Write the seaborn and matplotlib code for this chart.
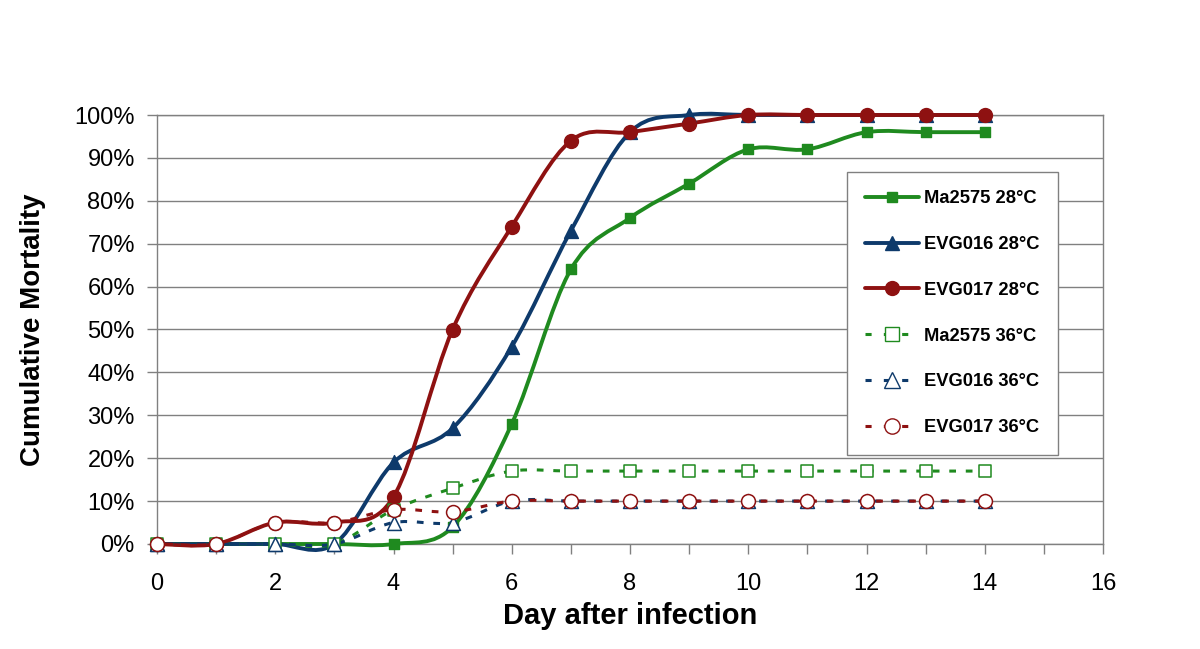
import numpy as np
import pandas as pd
import matplotlib
matplotlib.use("Agg")
import matplotlib.pyplot as plt
import seaborn as sns
from matplotlib.path import Path
from matplotlib.patches import PathPatch
from matplotlib.lines import Line2D
from matplotlib.ticker import MultipleLocator, FuncFormatter

days = [0, 1, 2, 3, 4, 5, 6, 7, 8, 9, 10, 11, 12, 13, 14]
ma2575_28 = [0, 0, 0, 0, 0, 4, 28, 64, 76, 84, 92, 92, 96, 96, 96]
evg016_28 = [0, 0, 0, 0, 19, 27, 46, 73, 96, 100, 100, 100, 100, 100, 100]
evg017_28 = [0, 0, 5, 5, 11, 50, 74, 94, 96, 98, 100, 100, 100, 100, 100]
ma2575_36 = [0, 0, 0, 0, 8, 13, 17, 17, 17, 17, 17, 17, 17, 17, 17]
evg016_36 = [0, 0, 0, 0, 5, 5, 10, 10, 10, 10, 10, 10, 10, 10, 10]
evg017_36 = [0, 0, 5, 5, 8, 7.5, 10, 10, 10, 10, 10, 10, 10, 10, 10]

labels = ["Ma2575 28°C", "EVG016 28°C", "EVG017 28°C",
          "Ma2575 36°C", "EVG016 36°C", "EVG017 36°C"]
series = [ma2575_28, evg016_28, evg017_28, ma2575_36, evg016_36, evg017_36]

GREEN = "#1f8a1f"
BLUE = "#0e3a6b"
RED = "#8e1111"
colors = [GREEN, BLUE, RED, GREEN, BLUE, RED]
markers = ["s", "^", "o", "s", "^", "o"]
msizes = [7, 10, 10, 9, 10, 10]
filled = [True, True, True, False, False, False]

sns.set_theme(style="white")
plt.rcParams["font.family"] = ["Liberation Sans", "DejaVu Sans"]
plt.rcParams["text.color"] = "black"
plt.rcParams["axes.labelcolor"] = "black"
plt.rcParams["xtick.labelcolor"] = "black"
plt.rcParams["ytick.labelcolor"] = "black"

fig = plt.figure(figsize=(12, 6.49), dpi=100)
ax = fig.add_axes([157 / 1200, 105 / 649, 946 / 1200, 429 / 649])


def smooth_path(x, y):
    # Excel-style smoothed line: Catmull-Rom converted to cubic Bezier
    pts = np.column_stack([x, y]).astype(float)
    n = len(pts)
    verts = [pts[0]]
    codes = [Path.MOVETO]
    for i in range(n - 1):
        p0 = pts[i - 1] if i > 0 else pts[i]
        p1 = pts[i]
        p2 = pts[i + 1]
        p3 = pts[i + 2] if i + 2 < n else pts[i + 1]
        c1 = p1 + (p2 - p0) / 6.0
        c2 = p2 - (p3 - p1) / 6.0
        verts += [c1, c2, p2]
        codes += [Path.CURVE4] * 3
    return Path(verts, codes)


for i, (lab, vals) in enumerate(zip(labels, series)):
    yv = np.array(vals) / 100.0
    if filled[i]:
        patch = PathPatch(smooth_path(days, yv), facecolor="none", edgecolor=colors[i],
                          lw=2.8, zorder=3, capstyle="round")
    else:
        patch = PathPatch(smooth_path(days, yv), facecolor="none", edgecolor=colors[i],
                          lw=2.2, linestyle=(0, (2.2, 3.2)), zorder=4)
    patch.set_clip_on(False)
    ax.add_patch(patch)
    df = pd.DataFrame({"day": days, "val": yv})
    sns.scatterplot(data=df, x="day", y="val", ax=ax, marker=markers[i],
                    s=msizes[i] ** 2,
                    color=colors[i] if filled[i] else "white",
                    edgecolor=colors[i], linewidth=1.0 if filled[i] else 1.1,
                    zorder=5 if filled[i] else 6, legend=False, clip_on=False)

ax.set_xlim(0, 16)
ax.set_ylim(0, 1.0)
ax.xaxis.set_major_locator(MultipleLocator(2))
ax.xaxis.set_minor_locator(MultipleLocator(1))
ax.yaxis.set_major_locator(MultipleLocator(0.1))
ax.yaxis.set_major_formatter(FuncFormatter(lambda v, p: f"{int(round(v * 100))}%"))
ax.grid(axis="y", color="#808080", lw=1.0)
ax.grid(axis="x", visible=False)
ax.set_axisbelow(True)
for s in ["left", "right", "top", "bottom"]:
    ax.spines[s].set_color("#808080")
    ax.spines[s].set_linewidth(1.0)
ax.tick_params(axis="both", which="both", direction="out",
               bottom=True, left=True, labelsize=17, labelcolor="black")
ax.tick_params(axis="both", which="major", length=7, width=1, color="#808080")
ax.tick_params(axis="x", which="minor", length=7, width=1, color="#808080")
ax.tick_params(axis="x", which="major", pad=14)
ax.tick_params(axis="y", which="major", pad=9)
ax.set_xlabel("Day after infection", fontsize=21, fontweight="bold", labelpad=5,
              color="black")
ax.set_ylabel("Cumulative Mortality", fontsize=20, fontweight="bold", labelpad=20,
              color="black")

handles = []
for i in range(6):
    if filled[i]:
        h = Line2D([0], [0], color=colors[i], lw=2.8, marker=markers[i],
                   markersize=msizes[i], markerfacecolor=colors[i],
                   markeredgecolor=colors[i])
    else:
        h = Line2D([0], [0], color=colors[i], lw=2.2, linestyle=(0, (2.0, 4.0)),
                   marker=markers[i], markersize=msizes[i] + 1, markerfacecolor="white",
                   markeredgecolor=colors[i])
    handles.append(h)
leg = ax.legend(handles, labels, loc="upper left",
                bbox_to_anchor=((847 - 157) / 946, 1 - (172 - 115) / 429),
                frameon=True, fancybox=False, edgecolor="#808080", framealpha=1,
                prop={"size": 13.2, "weight": "bold"}, handlelength=2.9,
                labelspacing=1.57, borderpad=1.0, handletextpad=0.3, borderaxespad=0,
                labelcolor="black")
leg.get_frame().set_linewidth(1.0)
leg.set_zorder(10)

fig.savefig("out.png", dpi=100)
